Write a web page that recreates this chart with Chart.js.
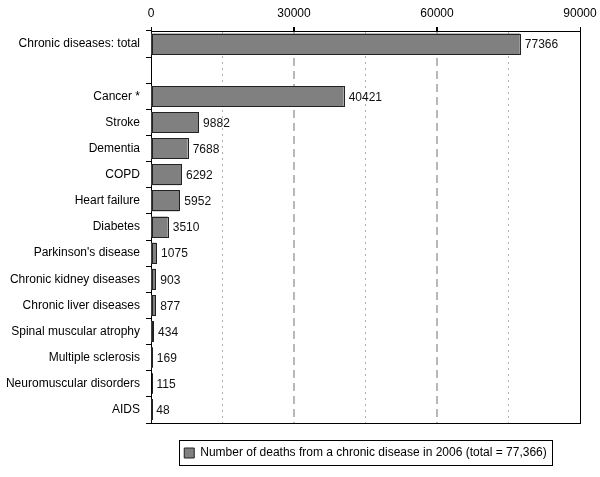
<!DOCTYPE html>
<html>
<head>
<meta charset="utf-8">
<script src="https://cdn.jsdelivr.net/npm/chart.js@4/dist/chart.umd.min.js"></script>
<style>
html,body{margin:0;padding:0;background:#fff;}
#wrap{width:600px;height:477px;position:relative;}
</style>
</head>
<body>
<div id="wrap"><canvas id="c" width="600" height="477"></canvas></div>
<script>
const categories = ["Chronic diseases: total", "", "Cancer *", "Stroke", "Dementia", "COPD", "Heart failure", "Diabetes", "Parkinson's disease", "Chronic kidney diseases", "Chronic liver diseases", "Spinal muscular atrophy", "Multiple sclerosis", "Neuromuscular disorders", "AIDS"];
const deaths = [77366, null, 40421, 9882, 7688, 6292, 5952, 3510, 1075, 903, 877, 434, 169, 115, 48];
const seriesLabel = "Number of deaths from a chronic disease in 2006 (total = 77,366)";
const xTicks = [0, 30000, 60000, 90000];

const FONT = "'Liberation Sans Narrow', 'Liberation Sans', Arial, sans-serif";
const BAR_FILL = '#808080';
const BAR_EDGE = '#222';

const barOutlineAndLabels = {
  id: 'barOutlineAndLabels',
  afterDatasetsDraw(chart) {
    const ctx = chart.ctx;
    const meta = chart.getDatasetMeta(0);
    ctx.save();
    ctx.strokeStyle = BAR_EDGE;
    ctx.lineWidth = 1;
    meta.data.forEach((el, i) => {
      const v = chart.data.datasets[0].data[i];
      if (v === null || v === undefined) return;
      const l = Math.round(Math.min(el.x, el.base));
      const r = Math.round(Math.max(el.x, el.base));
      const t = Math.round(el.y - el.height / 2);
      const h = Math.round(el.height);
      ctx.strokeRect(l + 0.5, t + 0.5, Math.max(r - l, 0), h - 1);
    });
    ctx.font = '12px ' + FONT;
    ctx.fillStyle = '#111';
    ctx.textAlign = 'left';
    ctx.textBaseline = 'middle';
    meta.data.forEach((el, i) => {
      const v = chart.data.datasets[0].data[i];
      if (v === null || v === undefined) return;
      ctx.fillText(String(v), el.x + 5, el.y + 1);
    });
    ctx.restore();
  }
};

const legendFrame = {
  id: 'legendFrame',
  afterDraw(chart) {
    const lg = chart.legend;
    if (!lg || !lg.legendHitBoxes || !lg.legendHitBoxes.length) return;
    const hb = lg.legendHitBoxes[0];
    const ctx = chart.ctx;
    ctx.save();
    ctx.strokeStyle = '#000';
    ctx.lineWidth = 1;
    ctx.strokeRect(Math.round(hb.left - 5) + 0.5, Math.round(hb.top - 7) + 0.5, Math.round(hb.width + 10), Math.round(hb.height + 13));
    ctx.restore();
  }
};

new Chart(document.getElementById('c'), {
  type: 'bar',
  data: {
    labels: categories,
    datasets: [{
      label: seriesLabel,
      data: deaths,
      backgroundColor: BAR_FILL,
      borderWidth: 0,
      categoryPercentage: 1.0,
      barPercentage: 0.8
    }]
  },
  options: {
    indexAxis: 'y',
    responsive: false,
    animation: false,
    devicePixelRatio: 1,
    layout: { padding: { left: 0, right: 20, top: 0, bottom: 8 } },
    plugins: {
      tooltip: { enabled: false },
      legend: {
        position: 'bottom',
        fullSize: false,
        labels: {
          font: { family: FONT, size: 12 },
          color: '#000',
          boxWidth: 10,
          boxHeight: 10,
          padding: 24,
          generateLabels(chart) {
            return [{
              text: seriesLabel,
              fillStyle: BAR_FILL,
              strokeStyle: BAR_EDGE,
              lineWidth: 1,
              datasetIndex: 0
            }];
          }
        }
      }
    },
    scales: {
      x: {
        type: 'linear',
        position: 'top',
        min: 0,
        max: 90000,
        afterFit(scale) { scale.height = 31; scale.paddingRight = 0; scale.paddingLeft = 0; },
        ticks: {
          stepSize: 15000,
          autoSkip: false,
          maxRotation: 0,
          padding: 6,
          color: '#000',
          font: { family: FONT, size: 12 },
          callback(v) { return xTicks.includes(v) ? String(v) : ''; }
        },
        grid: {
          drawTicks: true,
          tickLength: 4,
          tickColor(ctx) { return (ctx.tick && xTicks.includes(ctx.tick.value)) ? '#000' : 'rgba(0,0,0,0)'; },
          color(ctx) {
            const v = ctx.tick ? ctx.tick.value : 0;
            if (v === 0 || v === 90000) return '#000';
            if (v % 30000 === 0) return '#b8b8b8';
            return '#b0b0b0';
          },
          lineWidth(ctx) {
            const v = ctx.tick ? ctx.tick.value : 0;
            if (v === 0 || v === 90000) return 1;
            if (v % 30000 === 0) return 2;
            return 1;
          }
        },
        border: {
          display: true,
          color: '#000',
          width: 1,
          dash(ctx) {
            const v = ctx.tick ? ctx.tick.value : 0;
            if (v === 0 || v === 90000) return [];
            if (v % 30000 === 0) return [8, 5];
            return [2, 4];
          }
        }
      },
      x2: {
        type: 'linear',
        position: 'bottom',
        min: 0,
        max: 90000,
        afterFit(scale) { scale.paddingRight = 0; scale.paddingLeft = 0; },
        ticks: { display: false },
        grid: { display: false, drawTicks: false },
        border: { display: true, color: '#000', width: 1 }
      },
      y: {
        type: 'category',
        afterFit(scale) { scale.width = 151; },
        ticks: {
          color: '#000',
          padding: 6,
          autoSkip: false,
          font: { family: FONT, size: 12 }
        },
        grid: {
          drawOnChartArea: false,
          drawTicks: true,
          tickLength: 5,
          tickColor: '#000',
          offset: true
        },
        border: { display: true, color: '#000', width: 1 }
      }
    }
  },
  plugins: [barOutlineAndLabels, legendFrame]
});
</script>
</body>
</html>
